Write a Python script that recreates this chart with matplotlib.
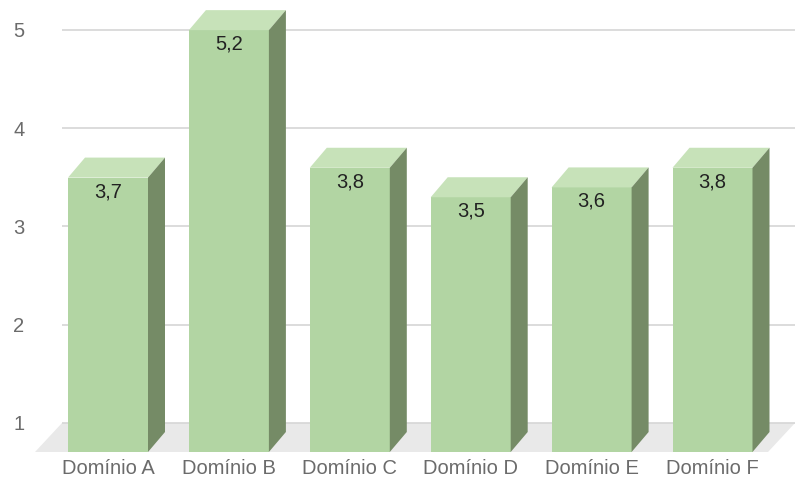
import matplotlib
matplotlib.use("Agg")
import matplotlib.pyplot as plt
from matplotlib.patches import Polygon

categories = ["Domínio A", "Domínio B", "Domínio C", "Domínio D", "Domínio E", "Domínio F"]
values = [3.7, 5.2, 3.8, 3.5, 3.6, 3.8]
value_labels = ["3,7", "5,2", "3,8", "3,5", "3,6", "3,8"]
yticks = [1, 2, 3, 4, 5]

plt.rcParams['font.family'] = ['Liberation Sans', 'DejaVu Sans']

W, H = 795, 484
fig = plt.figure(figsize=(W / 100, H / 100), dpi=100)
ax = fig.add_axes([62 / W, (H - 452) / H, (795 - 62) / W, 452 / H])

ppu_y = 98.3     # pixels per value unit
ppu_x = 120.9    # pixels per category
base = 1 - 29 / ppu_y
ymax = 1 + 423 / ppu_y
xmin = (62 - 108) / ppu_x
xmax = (795 - 108) / ppu_x
ax.set_xlim(xmin, xmax)
ax.set_ylim(base, ymax)

dx = 17 / ppu_x
dy = 20 / ppu_y
width = 80 / ppu_x

front_c = "#b2d5a3"
top_c = "#c7e2b9"
side_c = "#758b66"

# floor
floor_dx = 27 / ppu_x
floor = Polygon([(xmin, 1), (xmax, 1), (xmax - floor_dx, base), (xmin - floor_dx, base)],
                closed=True, facecolor="#e9e9e9", edgecolor="none", zorder=0.5, clip_on=False)
ax.add_patch(floor)

ax.set_yticks(yticks)
ax.set_yticklabels([str(t) for t in yticks])
ax.yaxis.grid(True, color="#d6d6d6", linewidth=1.2, zorder=0.6)
ax.set_axisbelow(True)

xs = list(range(len(categories)))
for i, v in enumerate(values):
    x0 = xs[i] - width / 2
    x1 = xs[i] + width / 2
    ftop = v - dy
    ax.bar(xs[i], ftop - base, bottom=base, width=width, color=front_c, zorder=3, linewidth=0)
    ax.add_patch(Polygon([(x0, ftop), (x1, ftop), (x1 + dx, v), (x0 + dx, v)],
                         closed=True, facecolor=top_c, edgecolor="none", zorder=3, clip_on=False))
    ax.add_patch(Polygon([(x1, base), (x1, ftop), (x1 + dx, v), (x1 + dx, base + dy)],
                         closed=True, facecolor=side_c, edgecolor="none", zorder=3, clip_on=False))
    ax.text(xs[i], ftop - 14 / ppu_y, value_labels[i], ha="center", va="center",
            fontsize=14.5, color="#222222", zorder=5)

ax.set_xticks(xs)
ax.set_xticklabels(categories)
ax.tick_params(axis="x", length=0, pad=5, labelsize=14.5, labelcolor="#6b6b6b")
ax.tick_params(axis="y", length=0, pad=27, labelsize=14.5, labelcolor="#6b6b6b")
for s in ax.spines.values():
    s.set_visible(False)

fig.savefig("out.png", dpi=100)
